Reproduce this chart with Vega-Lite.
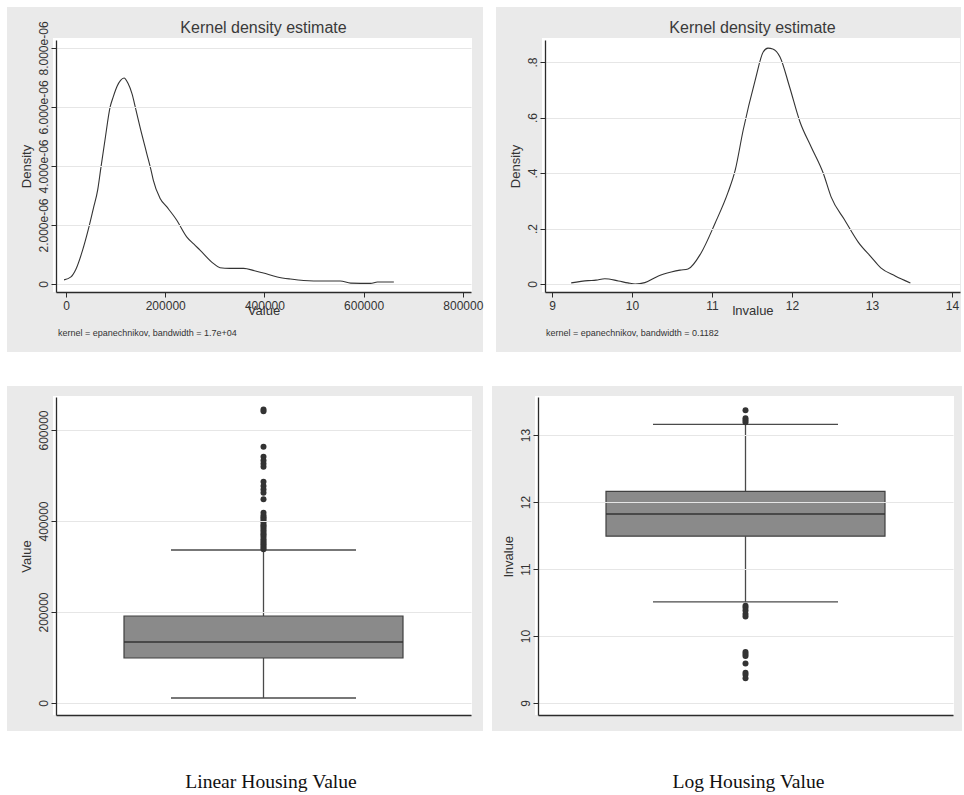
{
  "$schema": "https://vega.github.io/schema/vega-lite/v6.json",
  "background": "white",
  "padding": {"left": 6, "top": 6, "right": 0, "bottom": 0},
  "spacing": 33,
  "vconcat": [
    {
      "spacing": 13,
      "hconcat": [
        {
          "width": 415,
          "height": 252,
          "layer": [
            {"data": {"values": [{}]}, "mark": {"type": "rect", "color": "#eaeaea"}, "encoding": {"x": {"datum": -118950}, "x2": {"datum": 840723}, "y": {"datum": 8.338e-6}, "y2": {"datum": 9.3885e-6}}},
            {"data": {"values": [{}]}, "mark": {"type": "rect", "color": "#eaeaea"}, "encoding": {"x": {"datum": -118950}, "x2": {"datum": 840723}, "y": {"datum": -2.3046e-6}, "y2": {"datum": -2.71e-7}}},
            {"data": {"values": [{}]}, "mark": {"type": "rect", "color": "#eaeaea"}, "encoding": {"x": {"datum": -118950}, "x2": {"datum": -26208}, "y": {"datum": -2.3046e-6}, "y2": {"datum": 9.3885e-6}}},
            {"data": {"values": [{}]}, "mark": {"type": "rect", "color": "#eaeaea"}, "encoding": {"x": {"datum": 818546}, "x2": {"datum": 840723}, "y": {"datum": -2.3046e-6}, "y2": {"datum": 9.3885e-6}}},
            {
              "data": {"values": [
                {"value": -4000, "density": 1.4e-7},
                {"value": 10000, "density": 2.4e-7},
                {"value": 20000, "density": 5.0e-7},
                {"value": 33000, "density": 1.12e-6},
                {"value": 45000, "density": 1.85e-6},
                {"value": 55000, "density": 2.55e-6},
                {"value": 64000, "density": 3.2e-6},
                {"value": 70000, "density": 3.9e-6},
                {"value": 78600, "density": 4.88e-6},
                {"value": 89000, "density": 6.0e-6},
                {"value": 95400, "density": 6.35e-6},
                {"value": 103000, "density": 6.7e-6},
                {"value": 110000, "density": 6.9e-6},
                {"value": 117000, "density": 6.98e-6},
                {"value": 125000, "density": 6.8e-6},
                {"value": 133000, "density": 6.45e-6},
                {"value": 141000, "density": 5.9e-6},
                {"value": 149000, "density": 5.33e-6},
                {"value": 162700, "density": 4.43e-6},
                {"value": 172800, "density": 3.76e-6},
                {"value": 176000, "density": 3.52e-6},
                {"value": 189500, "density": 2.91e-6},
                {"value": 203000, "density": 2.62e-6},
                {"value": 223000, "density": 2.17e-6},
                {"value": 243300, "density": 1.6e-6},
                {"value": 258000, "density": 1.35e-6},
                {"value": 270200, "density": 1.15e-6},
                {"value": 297000, "density": 7.0e-7},
                {"value": 310500, "density": 5.5e-7},
                {"value": 330000, "density": 5.3e-7},
                {"value": 358000, "density": 5.3e-7},
                {"value": 380000, "density": 4.5e-7},
                {"value": 398000, "density": 3.7e-7},
                {"value": 426000, "density": 2.4e-7},
                {"value": 452000, "density": 1.7e-7},
                {"value": 479000, "density": 1.2e-7},
                {"value": 520000, "density": 1.0e-7},
                {"value": 553000, "density": 1.0e-7},
                {"value": 574000, "density": 3.0e-8},
                {"value": 614000, "density": 2.0e-8},
                {"value": 628000, "density": 7.0e-8},
                {"value": 661000, "density": 7.0e-8}
              ]},
              "mark": {"type": "line", "color": "#333333", "strokeWidth": 1.1, "interpolate": "monotone"},
              "encoding": {
                "x": {"field": "value", "type": "quantitative", "scale": {"domain": [-20160, 816530], "nice": false, "zero": false, "padding": 0}, "axis": {"title": "Value", "values": [0, 200000, 400000, 600000, 800000], "format": "d", "grid": false, "titlePadding": -7, "zindex": 1}},
                "y": {"field": "density", "type": "quantitative", "scale": {"domain": [-2.71e-7, 8.27e-6], "nice": false, "zero": false, "padding": 0}, "axis": {"title": "Density", "values": [0, 0.000002, 0.000004, 0.000006, 0.000008], "labelExpr": "datum.value == 0 ? '0' : replace(format(datum.value, '.3e'), 'e-6', 'e-06')", "grid": true, "zindex": 1}}
              }
            },
            {"data": {"values": [{}]}, "mark": {"type": "text", "text": "Kernel density estimate", "font": "Liberation Sans", "fontSize": 16, "color": "#3a3a3a", "align": "center", "baseline": "alphabetic"}, "encoding": {"x": {"datum": 398185}, "y": {"datum": 8.507e-6}}},
            {"data": {"values": [{}]}, "mark": {"type": "text", "text": "kernel = epanechnikov, bandwidth =  1.7e+04", "font": "Liberation Sans", "fontSize": 9, "color": "#333333", "align": "left", "baseline": "middle"}, "encoding": {"x": {"datum": -16128}, "y": {"datum": -1.661e-6}}}
          ]
        },
        {
          "width": 415,
          "height": 252,
          "layer": [
            {"data": {"values": [{}]}, "mark": {"type": "rect", "color": "#eaeaea"}, "encoding": {"x": {"datum": 8.3}, "x2": {"datum": 14.1125}, "y": {"datum": 0.88649}, "y2": {"datum": 0.9982}}},
            {"data": {"values": [{}]}, "mark": {"type": "rect", "color": "#eaeaea"}, "encoding": {"x": {"datum": 8.3}, "x2": {"datum": 14.1125}, "y": {"datum": -0.24505}, "y2": {"datum": -0.02883}}},
            {"data": {"values": [{}]}, "mark": {"type": "rect", "color": "#eaeaea"}, "encoding": {"x": {"datum": 8.3}, "x2": {"datum": 8.875}, "y": {"datum": -0.24505}, "y2": {"datum": 0.9982}}},
            {"data": {"values": [{}]}, "mark": {"type": "rect", "color": "#eaeaea"}, "encoding": {"x": {"datum": 14.1}, "x2": {"datum": 14.1125}, "y": {"datum": -0.24505}, "y2": {"datum": 0.9982}}},
            {
              "data": {"values": [
                {"lnvalue": 9.24, "density": 0.004},
                {"lnvalue": 9.45, "density": 0.012},
                {"lnvalue": 9.55, "density": 0.014},
                {"lnvalue": 9.66, "density": 0.019},
                {"lnvalue": 9.83, "density": 0.011},
                {"lnvalue": 9.95, "density": 0.004},
                {"lnvalue": 10.04, "density": 0.0},
                {"lnvalue": 10.16, "density": 0.005},
                {"lnvalue": 10.33, "density": 0.029},
                {"lnvalue": 10.49, "density": 0.043},
                {"lnvalue": 10.6, "density": 0.05},
                {"lnvalue": 10.7, "density": 0.054},
                {"lnvalue": 10.86, "density": 0.11},
                {"lnvalue": 11.04, "density": 0.22},
                {"lnvalue": 11.2, "density": 0.33},
                {"lnvalue": 11.29, "density": 0.41},
                {"lnvalue": 11.39, "density": 0.555},
                {"lnvalue": 11.54, "density": 0.735},
                {"lnvalue": 11.64, "density": 0.836},
                {"lnvalue": 11.7, "density": 0.85},
                {"lnvalue": 11.76, "density": 0.847},
                {"lnvalue": 11.85, "density": 0.818},
                {"lnvalue": 11.97, "density": 0.71},
                {"lnvalue": 12.1, "density": 0.584},
                {"lnvalue": 12.24, "density": 0.494},
                {"lnvalue": 12.39, "density": 0.4},
                {"lnvalue": 12.49, "density": 0.313},
                {"lnvalue": 12.66, "density": 0.23},
                {"lnvalue": 12.83, "density": 0.15},
                {"lnvalue": 12.99, "density": 0.097},
                {"lnvalue": 13.11, "density": 0.058},
                {"lnvalue": 13.29, "density": 0.029},
                {"lnvalue": 13.48, "density": 0.004}
              ]},
              "mark": {"type": "line", "color": "#333333", "strokeWidth": 1.1, "interpolate": "monotone"},
              "encoding": {
                "x": {"field": "lnvalue", "type": "quantitative", "scale": {"domain": [8.9125, 14.1], "nice": false, "zero": false, "padding": 0}, "axis": {"title": "lnvalue", "values": [9, 10, 11, 12, 13, 14], "format": "d", "grid": false, "titlePadding": -7, "zindex": 1}},
                "y": {"field": "density", "type": "quantitative", "scale": {"domain": [-0.02883, 0.8793], "nice": false, "zero": false, "padding": 0}, "axis": {"title": "Density", "values": [0, 0.2, 0.4, 0.6, 0.8], "labelExpr": "datum.value == 0 ? '0' : replace(format(datum.value, '.1f'), '0.', '.')", "grid": true, "zindex": 1}}
              }
            },
            {"data": {"values": [{}]}, "mark": {"type": "text", "text": "Kernel density estimate", "font": "Liberation Sans", "fontSize": 16, "color": "#3a3a3a", "align": "center", "baseline": "alphabetic"}, "encoding": {"x": {"datum": 11.5063}, "y": {"datum": 0.9045}}},
            {"data": {"values": [{}]}, "mark": {"type": "text", "text": "kernel = epanechnikov, bandwidth = 0.1182", "font": "Liberation Sans", "fontSize": 9, "color": "#333333", "align": "left", "baseline": "middle"}, "encoding": {"x": {"datum": 8.925}, "y": {"datum": -0.17658}}}
          ]
        }
      ]
    },
    {
      "spacing": 8,
      "hconcat": [
        {
          "width": 415,
          "height": 318,
          "layer": [
            {"data": {"values": [{}]}, "mark": {"type": "rect", "color": "#eaeaea"}, "encoding": {"x": {"datum": -0.11807}, "x2": {"datum": 1.02892}, "y": {"datum": 674724}, "y2": {"datum": 696702}}},
            {"data": {"values": [{}]}, "mark": {"type": "rect", "color": "#eaeaea"}, "encoding": {"x": {"datum": -0.11807}, "x2": {"datum": 1.02892}, "y": {"datum": -61539}, "y2": {"datum": -26374}}},
            {"data": {"values": [{}]}, "mark": {"type": "rect", "color": "#eaeaea"}, "encoding": {"x": {"datum": -0.11807}, "x2": {"datum": -0.00723}, "y": {"datum": -61539}, "y2": {"datum": 696702}}},
            {"data": {"values": [{}]}, "mark": {"type": "rect", "color": "#eaeaea"}, "encoding": {"x": {"datum": 1.00241}, "x2": {"datum": 1.02892}, "y": {"datum": -61539}, "y2": {"datum": 696702}}},
            {"data": {"values": [{"lo": 10989, "q1": 98901, "med": 134066, "q3": 191209, "hi": 336264}]}, "mark": {"type": "rule", "color": "#4a4a4a", "strokeWidth": 1.3}, "encoding": {"x": {"datum": 0.5}, "y": {"field": "lo", "type": "quantitative"}, "y2": {"field": "q1"}}},
            {"data": {"values": [{"lo": 10989, "q1": 98901, "med": 134066, "q3": 191209, "hi": 336264}]}, "mark": {"type": "rule", "color": "#4a4a4a", "strokeWidth": 1.3}, "encoding": {"x": {"datum": 0.5}, "y": {"field": "q3", "type": "quantitative"}, "y2": {"field": "hi"}}},
            {"data": {"values": [{"lo": 10989, "q1": 98901, "med": 134066, "q3": 191209, "hi": 336264}]}, "mark": {"type": "tick", "orient": "horizontal", "size": 185, "thickness": 1.3, "color": "#4a4a4a", "opacity": 1}, "encoding": {"x": {"datum": 0.5}, "y": {"field": "lo", "type": "quantitative"}}},
            {"data": {"values": [{"lo": 10989, "q1": 98901, "med": 134066, "q3": 191209, "hi": 336264}]}, "mark": {"type": "tick", "orient": "horizontal", "size": 185, "thickness": 1.3, "color": "#4a4a4a", "opacity": 1}, "encoding": {"x": {"datum": 0.5}, "y": {"field": "hi", "type": "quantitative"}}},
            {
              "data": {"values": [{"lo": 10989, "q1": 98901, "med": 134066, "q3": 191209, "hi": 336264}]},
              "mark": {"type": "bar", "width": 279, "fill": "#8a8a8a", "stroke": "#404040", "strokeWidth": 1.2},
              "encoding": {
                "x": {"datum": 0.5, "type": "quantitative", "scale": {"domain": [0, 1], "nice": false, "zero": false, "padding": 0}, "axis": {"title": null, "labels": false, "ticks": false, "grid": false, "zindex": 1}},
                "y": {"field": "q1", "type": "quantitative", "scale": {"domain": [-26374, 672527], "nice": false, "zero": false, "padding": 0}, "axis": {"title": "Value", "values": [0, 200000, 400000, 600000], "format": "d", "grid": true, "zindex": 1}},
                "y2": {"field": "q3"}
              }
            },
            {"data": {"values": [{"lo": 10989, "q1": 98901, "med": 134066, "q3": 191209, "hi": 336264}]}, "mark": {"type": "tick", "orient": "horizontal", "size": 279, "thickness": 1.5, "color": "#333333", "opacity": 1}, "encoding": {"x": {"datum": 0.5}, "y": {"field": "med", "type": "quantitative"}}},
            {
              "data": {"values": [
                {"value": 645000}, {"value": 641000}, {"value": 563000}, {"value": 541000}, {"value": 533000}, {"value": 526000}, {"value": 519000},
                {"value": 486000}, {"value": 477000}, {"value": 469000}, {"value": 462000}, {"value": 448000},
                {"value": 418000}, {"value": 412000}, {"value": 408000}, {"value": 405000}, {"value": 401000}, {"value": 397000}, {"value": 392000},
                {"value": 389000}, {"value": 385000}, {"value": 381000}, {"value": 377000}, {"value": 372000}, {"value": 369000}, {"value": 365000},
                {"value": 360000}, {"value": 356000}, {"value": 352000}, {"value": 349000}, {"value": 345000}, {"value": 341000}, {"value": 338000}
              ]},
              "mark": {"type": "point", "filled": true, "size": 36, "color": "#333333", "opacity": 1},
              "encoding": {"x": {"datum": 0.5}, "y": {"field": "value", "type": "quantitative"}}
            },
            {"data": {"values": [{}]}, "mark": {"type": "text", "text": "Linear Housing Value", "font": "Liberation Serif", "fontSize": 19.6, "color": "#111111", "align": "center", "baseline": "alphabetic"}, "encoding": {"x": {"datum": 0.5181}, "y": {"datum": -186813}}}
          ]
        },
        {
          "width": 415,
          "height": 318,
          "layer": [
            {"data": {"values": [{}]}, "mark": {"type": "rect", "color": "#eaeaea"}, "encoding": {"x": {"datum": -0.11084}, "x2": {"datum": 1.02169}, "y": {"datum": 13.5821}, "y2": {"datum": 13.7313}}},
            {"data": {"values": [{}]}, "mark": {"type": "rect", "color": "#eaeaea"}, "encoding": {"x": {"datum": -0.11084}, "x2": {"datum": 1.02169}, "y": {"datum": 8.5821}, "y2": {"datum": 8.8209}}},
            {"data": {"values": [{}]}, "mark": {"type": "rect", "color": "#eaeaea"}, "encoding": {"x": {"datum": -0.11084}, "x2": {"datum": -0.00723}, "y": {"datum": 8.5821}, "y2": {"datum": 13.7313}}},
            {"data": {"values": [{}]}, "mark": {"type": "rect", "color": "#eaeaea"}, "encoding": {"x": {"datum": 1.00241}, "x2": {"datum": 1.02169}, "y": {"datum": 8.5821}, "y2": {"datum": 13.7313}}},
            {"data": {"values": [{"lo": 10.51, "q1": 11.49, "med": 11.82, "q3": 12.16, "hi": 13.16}]}, "mark": {"type": "rule", "color": "#4a4a4a", "strokeWidth": 1.3}, "encoding": {"x": {"datum": 0.5}, "y": {"field": "lo", "type": "quantitative"}, "y2": {"field": "q1"}}},
            {"data": {"values": [{"lo": 10.51, "q1": 11.49, "med": 11.82, "q3": 12.16, "hi": 13.16}]}, "mark": {"type": "rule", "color": "#4a4a4a", "strokeWidth": 1.3}, "encoding": {"x": {"datum": 0.5}, "y": {"field": "q3", "type": "quantitative"}, "y2": {"field": "hi"}}},
            {"data": {"values": [{"lo": 10.51, "q1": 11.49, "med": 11.82, "q3": 12.16, "hi": 13.16}]}, "mark": {"type": "tick", "orient": "horizontal", "size": 185, "thickness": 1.3, "color": "#4a4a4a", "opacity": 1}, "encoding": {"x": {"datum": 0.5}, "y": {"field": "lo", "type": "quantitative"}}},
            {"data": {"values": [{"lo": 10.51, "q1": 11.49, "med": 11.82, "q3": 12.16, "hi": 13.16}]}, "mark": {"type": "tick", "orient": "horizontal", "size": 185, "thickness": 1.3, "color": "#4a4a4a", "opacity": 1}, "encoding": {"x": {"datum": 0.5}, "y": {"field": "hi", "type": "quantitative"}}},
            {
              "data": {"values": [{"lo": 10.51, "q1": 11.49, "med": 11.82, "q3": 12.16, "hi": 13.16}]},
              "mark": {"type": "bar", "width": 279, "fill": "#8a8a8a", "stroke": "#404040", "strokeWidth": 1.2},
              "encoding": {
                "x": {"datum": 0.5, "type": "quantitative", "scale": {"domain": [0, 1], "nice": false, "zero": false, "padding": 0}, "axis": {"title": null, "labels": false, "ticks": false, "grid": false, "zindex": 1}},
                "y": {"field": "q1", "type": "quantitative", "scale": {"domain": [8.8209, 13.5672], "nice": false, "zero": false, "padding": 0}, "axis": {"title": "lnvalue", "values": [9, 10, 11, 12, 13], "format": "d", "grid": true, "zindex": 1}},
                "y2": {"field": "q3"}
              }
            },
            {"data": {"values": [{"lo": 10.51, "q1": 11.49, "med": 11.82, "q3": 12.16, "hi": 13.16}]}, "mark": {"type": "tick", "orient": "horizontal", "size": 279, "thickness": 1.5, "color": "#333333", "opacity": 1}, "encoding": {"x": {"datum": 0.5}, "y": {"field": "med", "type": "quantitative"}}},
            {
              "data": {"values": [
                {"lnvalue": 13.37}, {"lnvalue": 13.25}, {"lnvalue": 13.22}, {"lnvalue": 13.19},
                {"lnvalue": 10.45}, {"lnvalue": 10.42}, {"lnvalue": 10.38}, {"lnvalue": 10.33}, {"lnvalue": 10.29},
                {"lnvalue": 9.76}, {"lnvalue": 9.73}, {"lnvalue": 9.7}, {"lnvalue": 9.59}, {"lnvalue": 9.45}, {"lnvalue": 9.42}, {"lnvalue": 9.37}
              ]},
              "mark": {"type": "point", "filled": true, "size": 36, "color": "#333333", "opacity": 1},
              "encoding": {"x": {"datum": 0.5}, "y": {"field": "lnvalue", "type": "quantitative"}}
            },
            {"data": {"values": [{}]}, "mark": {"type": "text", "text": "Log Housing Value", "font": "Liberation Serif", "fontSize": 19.6, "color": "#111111", "align": "center", "baseline": "alphabetic"}, "encoding": {"x": {"datum": 0.5072}, "y": {"datum": 7.7313}}}
          ]
        }
      ]
    }
  ],
  "config": {
    "view": {"stroke": null},
    "axis": {
      "domainColor": "#2b2b2b",
      "domainWidth": 1.3,
      "tickColor": "#2b2b2b",
      "tickSize": 5,
      "tickWidth": 1,
      "labelColor": "#333333",
      "labelFont": "Liberation Sans",
      "labelFontSize": 12,
      "titleFont": "Liberation Sans",
      "titleFontSize": 13,
      "titleFontWeight": "normal",
      "titleColor": "#333333",
      "gridColor": "#e6e6e6",
      "gridWidth": 1,
      "labelOverlap": false,
      "labelFlush": false,
      "labelPadding": 3
    },
    "axisY": {"labelAngle": 270, "labelAlign": "center", "labelBaseline": "alphabetic", "labelPadding": 4, "titlePadding": 4},
    "axisX": {"grid": false}
  }
}
